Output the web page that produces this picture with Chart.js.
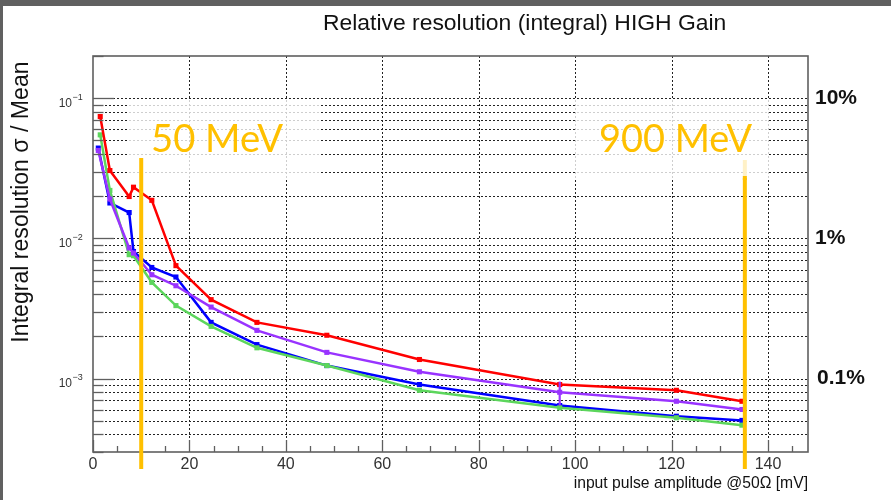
<!DOCTYPE html>
<html><head><meta charset="utf-8">
<script src="https://cdn.jsdelivr.net/npm/chart.js@4.4.0/dist/chart.umd.min.js"></script>
<style>html,body{margin:0;padding:0;background:#fff;overflow:hidden}canvas{display:block}</style>
</head><body><canvas id="c" width="891" height="500"></canvas>
<script>
// ---- data ----
const xValues   = [1.5, 3.5, 7.5, 8.4, 12.2, 17.2, 24.5, 34, 48.5, 67.7, 96.8, 121, 134.6];
const xValuesBP = [1.1, 3.5, 7.5, 8.4, 12.2, 17.2, 24.5, 34, 48.5, 67.7, 96.8, 121, 134.6];
const redValues    = [0.0740, 0.0305, 0.0199, 0.0232, 0.0187, 0.0064, 0.00366, 0.00252, 0.00204, 0.00137, 0.000908, 0.000826, 0.00069];
const greenValues  = [0.0548, 0.0220, 0.00766, 0.00753, 0.00486, 0.00332, 0.00236, 0.00166, 0.00124, 0.000826, 0.00062, 0.000526, 0.000466];
const blueValues   = [0.0441, 0.0179, 0.0153, 0.00807, 0.00621, 0.00531, 0.00252, 0.00175, 0.00124, 0.000908, 0.000643, 0.00054, 0.000504];
const purpleValues = [0.0424, 0.0191, 0.00855, 0.00787, 0.00551, 0.0046, 0.00324, 0.00221, 0.00154, 0.00112, 0.0008, 0.00069, 0.000603];
const purpleErrX = 96.8;
const purpleErrRange = [0.000643, 0.000953];

const xTickValues = [0, 20, 40, 60, 80, 100, 120, 140];
const yDecades = [0.001, 0.01, 0.1];
const yDecadeExponents = ['\u22123', '\u22122', '\u22121'];
const rightLabels = ['0.1%', '1%', '10%'];
const energyLineX = [10, 135.2];
const energyLabels = ['50 MeV', '900 MeV'];

const titleText = 'Relative resolution (integral) HIGH Gain';
const yTitle = 'Integral resolution \u03c3 / Mean';
const xTitle = 'input pulse amplitude @50\u03a9 [mV]';

// ---- helpers ----
function fitSize(ctx, text, width, weight, family) {
  ctx.font = weight + ' 100px ' + family;
  return 100 * width / ctx.measureText(text).width;
}
function yGridValues(min, max) {
  const out = [];
  for (let e = -5; e <= 1; e++) for (let m = 1; m <= 9; m++) {
    const v = m * Math.pow(10, e);
    if (v >= min * 0.999 && v <= max * 1.001) out.push(+v.toPrecision(3));
  }
  return out;
}
const YMIN = 3e-4, YMAX = 0.2, XMIN = 0, XMAX = 148.3;
const AXIS = '#5f5f5f';
const SANS = '"Liberation Sans", Arial, sans-serif';
const YELLOW = '#FFC000';

function mk(label, xs, ys, color, order) {
  return { label, data: xs.map((x, i) => ({ x, y: ys[i] })), borderColor: color, backgroundColor: color,
    borderWidth: 2.5, pointStyle: 'rect', pointRadius: 3.6, pointBorderWidth: 0, tension: 0, order };
}

const rootPlugin = {
  id: 'rootStyle',
  beforeDraw(chart) {
    const c = chart.ctx;
    c.save();
    c.fillStyle = '#fff'; c.fillRect(0, 0, chart.width, chart.height);
    c.fillStyle = '#606060'; c.fillRect(0, 0, chart.width, 6); c.fillRect(0, 0, 3, chart.height);
    c.restore();
  },
  beforeDatasetsDraw(chart) {
    const { ctx: c, chartArea: a, scales: { x, y } } = chart;
    c.save();
    c.strokeStyle = '#222'; c.lineWidth = 1; c.setLineDash([2, 2]);
    for (const v of yGridValues(YMIN, YMAX)) {
      const py = Math.round(y.getPixelForValue(v)) + 0.5;
      if (py < a.top + 2 || py > a.bottom - 2) continue;
      c.beginPath(); c.moveTo(a.left, py); c.lineTo(a.right, py); c.stroke();
    }
    for (const v of xTickValues) {
      if (v === 0) continue;
      const px = Math.round(x.getPixelForValue(v)) + 0.5;
      c.beginPath(); c.moveTo(px, a.top); c.lineTo(px, a.bottom); c.stroke();
    }
    c.setLineDash([]);
    // right energy line (upper part lies under the label box)
    const rx = x.getPixelForValue(energyLineX[1]);
    c.strokeStyle = YELLOW; c.lineWidth = 4;
    c.beginPath(); c.moveTo(rx, 160); c.lineTo(rx, 180); c.stroke();
    // translucent label boxes
    c.fillStyle = 'rgba(255,255,255,0.78)';
    c.fillRect(128, 100, 192, 80);
    c.fillRect(575, 100, 194, 78);
    c.restore();
  },
  afterDatasetsDraw(chart) {
    const { ctx: c, chartArea: a, scales: { x, y } } = chart;
    c.save();
    // error bar on purple series
    const ex = x.getPixelForValue(purpleErrX);
    c.strokeStyle = '#9933ff'; c.lineWidth = 2.2;
    c.beginPath(); c.moveTo(ex, y.getPixelForValue(purpleErrRange[0])); c.lineTo(ex, y.getPixelForValue(purpleErrRange[1])); c.stroke();

    // frame
    c.strokeStyle = AXIS; c.lineWidth = 1.6;
    c.strokeRect(a.left, a.top, a.right - a.left, a.bottom - a.top);

    // y ticks
    c.lineWidth = 1.3;
    for (const v of yGridValues(YMIN, YMAX)) {
      const py = Math.round(y.getPixelForValue(v)) + 0.5;
      const major = yDecades.some(d => Math.abs(d - v) / d < 1e-6);
      const len = major ? 21 : 10.5;
      c.beginPath(); c.moveTo(a.left, py); c.lineTo(a.left + len, py); c.stroke();
    }
    // x ticks
    for (let v = 0; v <= XMAX; v += 5) {
      const px = Math.round(x.getPixelForValue(v)) + 0.5;
      const len = (v % 20 === 0) ? 12 : 6;
      c.beginPath(); c.moveTo(px, a.bottom); c.lineTo(px, a.bottom - len); c.stroke();
    }

    // x tick labels
    c.fillStyle = '#333'; c.font = '16px ' + SANS; c.textAlign = 'center'; c.textBaseline = 'alphabetic';
    for (const v of xTickValues) c.fillText(String(v), x.getPixelForValue(v), 469);

    // y tick labels 10^-n
    yDecades.forEach((d, i) => {
      const py = y.getPixelForValue(d);
      c.textAlign = 'right'; c.font = '12px ' + SANS;
      c.fillText('10', 72, py + 8.5);
      c.textAlign = 'left'; c.font = '9px ' + SANS;
      c.fillText(yDecadeExponents[i], 72.5, py + 1.5);
    });

    // right-hand percentage labels
    c.fillStyle = '#111'; c.font = 'bold 21px ' + SANS; c.textAlign = 'left'; c.textBaseline = 'middle';
    yDecades.forEach((d, i) => {
      const py = y.getPixelForValue(d);
      c.fillText(rightLabels[i], i === 0 ? 817 : 815, py);
    });

    // energy lines
    c.strokeStyle = YELLOW; c.lineWidth = 4;
    const lx = x.getPixelForValue(energyLineX[0]);
    c.beginPath(); c.moveTo(lx, 158); c.lineTo(lx, 469); c.stroke();
    const rx = x.getPixelForValue(energyLineX[1]);
    c.beginPath(); c.moveTo(rx, 176); c.lineTo(rx, 469); c.stroke();

    // energy labels
    c.fillStyle = YELLOW; c.textAlign = 'left'; c.textBaseline = 'alphabetic';
    let s = fitSize(c, energyLabels[0], 132, 'normal', 'Lato');
    c.font = s.toFixed(1) + 'px Lato'; c.fillText(energyLabels[0], 151, 152);
    s = fitSize(c, energyLabels[1], 153, 'normal', 'Lato');
    c.font = s.toFixed(1) + 'px Lato'; c.fillText(energyLabels[1], 599, 152);

    // titles
    c.fillStyle = '#111';
    s = fitSize(c, titleText, 404, 'normal', SANS);
    c.font = s.toFixed(1) + 'px ' + SANS; c.textAlign = 'left';
    c.fillText(titleText, 323, 30);

    s = fitSize(c, xTitle, 235, 'normal', SANS);
    c.font = s.toFixed(1) + 'px ' + SANS; c.textAlign = 'right';
    c.fillText(xTitle, 808, 488);

    s = fitSize(c, yTitle, 281, 'normal', SANS);
    c.translate(22, 202); c.rotate(-Math.PI / 2);
    c.font = s.toFixed(1) + 'px ' + SANS; c.textAlign = 'center'; c.textBaseline = 'middle';
    c.fillText(yTitle, 0, 0);
    c.restore();
  }
};

new Chart(document.getElementById('c'), {
  type: 'line',
  data: { datasets: [
    mk('red', xValues, redValues, '#ff0000', 1),
    mk('purple', xValuesBP, purpleValues, '#9933ff', 2),
    mk('green', xValues, greenValues, '#5cd65c', 3),
    mk('blue', xValuesBP, blueValues, '#0000ff', 4)
  ] },
  options: {
    responsive: false, animation: false, devicePixelRatio: 1,
    layout: { padding: { left: 93, top: 56, right: 83, bottom: 48 } },
    plugins: { legend: { display: false }, tooltip: { enabled: false } },
    scales: {
      x: { type: 'linear', min: XMIN, max: XMAX, display: false },
      y: { type: 'logarithmic', min: YMIN, max: YMAX, display: false }
    }
  },
  plugins: [rootPlugin]
});
</script></body></html>
